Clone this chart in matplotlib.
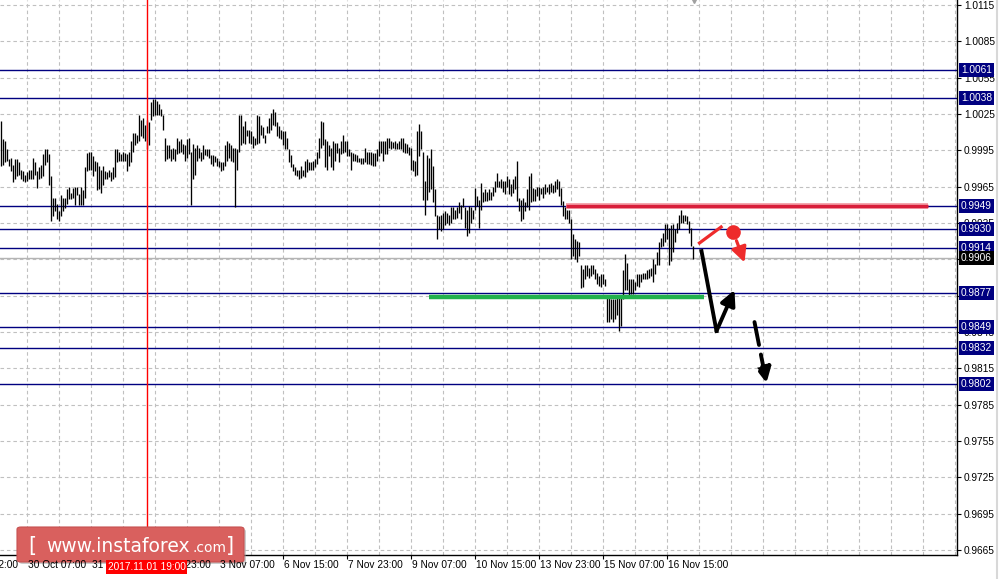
import matplotlib
matplotlib.use("Agg")
import matplotlib.pyplot as plt
from matplotlib.patches import FancyBboxPatch

# ---------------- data ----------------
highs = [
    1.0019, 1.0004, 1.0003, 0.9996, 0.9988, 0.9989, 0.9983, 0.9988, 0.9988, 0.9985,
    0.9979, 0.9978, 0.9975, 0.9977, 0.9979, 0.9979, 0.9989, 0.9985, 0.9978, 0.9981,
    0.9983, 0.9992, 0.9996, 0.9996, 0.9992, 0.9974, 0.9956, 0.9956, 0.9951, 0.9945,
    0.9958, 0.9956, 0.9956, 0.9963, 0.9965, 0.9960, 0.9964, 0.9965, 0.9965, 0.9959,
    0.9965, 0.9962, 0.9981, 0.9993, 0.9994, 0.9994, 0.9990, 0.9986, 0.9985, 0.9982,
    0.9979, 0.9982, 0.9978, 0.9977, 0.9979, 0.9977, 0.9981, 0.9996, 0.9996, 0.9994,
    0.9992, 0.9994, 0.9993, 0.9992, 0.9994, 1.0003, 1.0009, 1.0009, 1.0008, 1.0024,
    1.0020, 1.0022, 1.0016, 1.0020, 1.0018, 1.0035, 1.0037, 1.0037, 1.0036, 1.0033,
    1.0029, 1.0024, 1.0005, 0.9999, 0.9999, 0.9996, 0.9997, 0.9996, 1.0005, 1.0003,
    1.0004, 1.0000, 0.9999, 1.0004, 1.0005, 0.9994, 1.0000, 0.9997, 0.9999, 0.9997,
    0.9994, 0.9999, 0.9996, 0.9996, 0.9996, 0.9991, 0.9991, 0.9990, 0.9989, 0.9986,
    0.9985, 0.9985, 0.9999, 1.0003, 1.0001, 0.9999, 0.9997, 0.9997, 0.9996, 1.0024,
    1.0024, 1.0015, 1.0019, 1.0012, 1.0012, 1.0011, 1.0007, 1.0005, 1.0024, 1.0023,
    1.0016, 1.0014, 1.0008, 1.0015, 1.0022, 1.0026, 1.0029, 1.0027, 1.0018, 1.0015,
    1.0012, 1.0011, 1.0011, 1.0005, 0.9996, 0.9991, 0.9984, 0.9981, 0.9979, 0.9979,
    0.9982, 0.9979, 0.9986, 0.9988, 0.9985, 0.9985, 0.9986, 0.9988, 0.9994, 1.0005,
    1.0019, 1.0018, 1.0004, 1.0003, 0.9999, 0.9997, 1.0003, 1.0001, 1.0001, 0.9997,
    1.0003, 1.0008, 1.0003, 1.0003, 0.9996, 0.9994, 0.9993, 0.9992, 0.9991, 0.9989,
    0.9989, 0.9989, 0.9997, 0.9994, 0.9994, 0.9994, 0.9993, 0.9993, 0.9996, 1.0003,
    1.0003, 1.0003, 1.0003, 1.0005, 1.0005, 1.0003, 1.0002, 1.0003, 1.0001, 1.0003,
    1.0005, 1.0005, 1.0001, 1.0000, 0.9998, 0.9997, 0.9987, 0.9986, 1.0011, 1.0017,
    1.0011, 0.9994, 0.9970, 0.9991, 0.9989, 0.9996, 0.9982, 0.9963, 0.9942, 0.9941,
    0.9942, 0.9943, 0.9945, 0.9943, 0.9942, 0.9948, 0.9948, 0.9946, 0.9948, 0.9952,
    0.9950, 0.9956, 0.9948, 0.9946, 0.9949, 0.9948, 0.9946, 0.9964, 0.9957, 0.9954,
    0.9968, 0.9961, 0.9963, 0.9961, 0.9963, 0.9961, 0.9965, 0.9970, 0.9976, 0.9970,
    0.9971, 0.9970, 0.9970, 0.9974, 0.9971, 0.9967, 0.9971, 0.9974, 0.9986, 0.9956,
    0.9954, 0.9956, 0.9952, 0.9963, 0.9974, 0.9976, 0.9964, 0.9963, 0.9965, 0.9965,
    0.9964, 0.9965, 0.9967, 0.9965, 0.9967, 0.9968, 0.9966, 0.9970, 0.9971, 0.9970,
    0.9964, 0.9953, 0.9948, 0.9946, 0.9946, 0.9938, 0.9926, 0.9922, 0.9920, 0.9919,
    0.9900, 0.9897, 0.9900, 0.9900, 0.9898, 0.9900, 0.9900, 0.9897, 0.9894, 0.9891,
    0.9893, 0.9893, 0.9889, 0.9875, 0.9875, 0.9872, 0.9872, 0.9872, 0.9875, 0.9874,
    0.9874, 0.9896, 0.9909, 0.9902, 0.9889, 0.9889, 0.9889, 0.9886, 0.9893, 0.9893,
    0.9893, 0.9894, 0.9894, 0.9896, 0.9897, 0.9898, 0.9905, 0.9901, 0.9911, 0.9919,
    0.9923, 0.9927, 0.9934, 0.9934, 0.9931, 0.9933, 0.9934, 0.9930, 0.9935, 0.9942,
    0.9946, 0.9942, 0.9942, 0.9941, 0.9937, 0.9931, 0.9916,
]
lows = [
    0.9982, 0.9983, 0.9985, 0.9986, 0.9982, 0.9978, 0.9969, 0.9971, 0.9974, 0.9975,
    0.9971, 0.9970, 0.9969, 0.9970, 0.9971, 0.9971, 0.9971, 0.9975, 0.9964, 0.9971,
    0.9972, 0.9974, 0.9983, 0.9985, 0.9966, 0.9937, 0.9941, 0.9945, 0.9938, 0.9937,
    0.9941, 0.9945, 0.9947, 0.9951, 0.9955, 0.9955, 0.9956, 0.9950, 0.9958, 0.9950,
    0.9950, 0.9950, 0.9956, 0.9978, 0.9979, 0.9979, 0.9974, 0.9978, 0.9962, 0.9963,
    0.9960, 0.9966, 0.9971, 0.9971, 0.9973, 0.9970, 0.9971, 0.9973, 0.9985, 0.9986,
    0.9986, 0.9986, 0.9986, 0.9978, 0.9982, 0.9985, 0.9994, 0.9999, 1.0001, 1.0003,
    1.0007, 1.0005, 1.0003, 0.9996, 0.9999, 1.0020, 1.0023, 1.0024, 1.0024, 1.0024,
    1.0023, 1.0012, 0.9986, 0.9988, 0.9989, 0.9986, 0.9988, 0.9986, 0.9992, 0.9993,
    0.9994, 0.9992, 0.9986, 0.9989, 0.9992, 0.9950, 0.9971, 0.9975, 0.9986, 0.9989,
    0.9986, 0.9988, 0.9991, 0.9990, 0.9989, 0.9984, 0.9982, 0.9985, 0.9982, 0.9981,
    0.9978, 0.9979, 0.9982, 0.9986, 0.9989, 0.9986, 0.9985, 0.9948, 0.9979, 0.9994,
    0.9999, 1.0001, 1.0000, 1.0007, 1.0001, 1.0000, 0.9997, 0.9999, 1.0000, 1.0001,
    1.0008, 1.0005, 1.0001, 1.0009, 1.0009, 1.0012, 1.0016, 1.0015, 1.0007, 1.0005,
    1.0004, 0.9999, 0.9996, 0.9996, 0.9985, 0.9981, 0.9978, 0.9975, 0.9974, 0.9971,
    0.9972, 0.9974, 0.9973, 0.9977, 0.9979, 0.9979, 0.9979, 0.9981, 0.9984, 0.9989,
    0.9997, 0.9999, 0.9981, 0.9979, 0.9990, 0.9981, 0.9979, 0.9986, 0.9993, 0.9985,
    0.9992, 0.9993, 0.9994, 0.9990, 0.9990, 0.9979, 0.9986, 0.9986, 0.9985, 0.9985,
    0.9984, 0.9984, 0.9985, 0.9984, 0.9984, 0.9983, 0.9982, 0.9982, 0.9986, 0.9990,
    0.9993, 0.9986, 0.9992, 0.9992, 0.9997, 0.9996, 0.9997, 0.9996, 0.9996, 0.9996,
    0.9996, 0.9994, 0.9993, 0.9993, 0.9991, 0.9979, 0.9978, 0.9974, 0.9975, 0.9990,
    0.9996, 0.9954, 0.9942, 0.9954, 0.9961, 0.9963, 0.9952, 0.9941, 0.9922, 0.9930,
    0.9928, 0.9930, 0.9933, 0.9935, 0.9933, 0.9935, 0.9938, 0.9938, 0.9939, 0.9943,
    0.9938, 0.9948, 0.9931, 0.9924, 0.9927, 0.9935, 0.9938, 0.9946, 0.9949, 0.9931,
    0.9946, 0.9952, 0.9953, 0.9953, 0.9954, 0.9954, 0.9957, 0.9961, 0.9965, 0.9965,
    0.9964, 0.9961, 0.9959, 0.9965, 0.9959, 0.9957, 0.9960, 0.9963, 0.9953, 0.9945,
    0.9937, 0.9938, 0.9945, 0.9948, 0.9946, 0.9952, 0.9953, 0.9953, 0.9957, 0.9954,
    0.9959, 0.9956, 0.9959, 0.9961, 0.9959, 0.9961, 0.9960, 0.9961, 0.9963, 0.9957,
    0.9950, 0.9941, 0.9938, 0.9938, 0.9935, 0.9905, 0.9908, 0.9905, 0.9903, 0.9908,
    0.9881, 0.9882, 0.9889, 0.9891, 0.9890, 0.9891, 0.9893, 0.9889, 0.9885, 0.9883,
    0.9882, 0.9885, 0.9883, 0.9853, 0.9853, 0.9856, 0.9853, 0.9856, 0.9859, 0.9846,
    0.9850, 0.9872, 0.9880, 0.9880, 0.9875, 0.9876, 0.9876, 0.9880, 0.9883, 0.9882,
    0.9886, 0.9889, 0.9889, 0.9889, 0.9890, 0.9891, 0.9886, 0.9893, 0.9900, 0.9900,
    0.9915, 0.9916, 0.9919, 0.9922, 0.9900, 0.9904, 0.9911, 0.9919, 0.9927, 0.9930,
    0.9935, 0.9935, 0.9937, 0.9934, 0.9927, 0.9916, 0.9905,
]

# horizontal levels (navy) and current price
levels = [1.0061, 1.0038, 0.9949, 0.9930, 0.9914, 0.9877, 0.9849, 0.9832, 0.9802]
current_price = 0.9906

# price scale ticks
ytick_values = [0.9665, 0.9695, 0.9725, 0.9755, 0.9785, 0.9815, 0.9845, 0.9875,
                0.9905, 0.9935, 0.9965, 0.9995, 1.0025, 1.0055, 1.0085, 1.0115]

# time axis labels (bar index -> label)
xtick_bars = [-21, 13, 45, 77, 109, 141, 173, 205, 237, 269, 301, 333]
xtick_labels = ["27 Oct 22:00", "30 Oct 07:00", "31 Oct 15:00", "1 Nov 23:00",
                "3 Nov 07:00", "6 Nov 15:00", "7 Nov 23:00", "9 Nov 07:00",
                "10 Nov 15:00", "13 Nov 23:00", "15 Nov 07:00", "16 Nov 15:00"]

marker_bar = 73
marker_label = "2017.11.01 19:00"

# analyst drawings (bar index, price)
resistance_seg = ([282.5, 463.5], [0.99488, 0.99488])
support_seg = ([214, 351.5], [0.98735, 0.98735])
red_line = ([349.5, 360.3], [0.99185, 0.99317])
red_dot = (366.0, 0.99275)
red_arrow = ((367.5, 0.99226), (372.5, 0.99003))
black_path = ([350.5, 358.0], [0.99118, 0.98458])
black_arrow = ((358.0, 0.98458), (367.0, 0.98797))
dashed_arrow = ((377.0, 0.98532), (383.0, 0.98029))

# ---------------- figure ----------------
W, H = 999, 579
fig = plt.figure(figsize=(W / 100, H / 100), dpi=100)
fig.patch.set_facecolor("white")
ax = fig.add_axes([0, (H - 555) / H, 957 / W, 555 / H])
ax.set_facecolor("white")

FONT = "Liberation Sans"
FS = 7.3

XLIM = (-0.25, 478.25)
YLIM = (0.96609, 1.01191)

# grid
grid_kw = dict(color="#C0C0C0", lw=0.8, linestyle=(0, (3.2, 2.6)), zorder=0)
for v in ytick_values:
    ax.axhline(v, **grid_kw)
for b in range(13, 479, 16):
    ax.axvline(b, **grid_kw)

# levels
for lv in levels:
    ax.axhline(lv, color="#000080", lw=1.0, zorder=2)
ax.axhline(current_price, color="#B4B4B4", lw=1.0, zorder=1.5)

# bars
idx = list(range(len(highs)))
ax.vlines(idx, lows, highs, color="black", lw=0.95, zorder=3)

# red time marker
ax.axvline(marker_bar, color="#FF0000", lw=1.0, zorder=4)

# drawings
ax.plot(*resistance_seg, color="#F4A0A8", lw=4.2, solid_capstyle="butt", zorder=5)
ax.plot(*resistance_seg, color="#D81E3A", lw=2.4, solid_capstyle="butt", zorder=5)
ax.plot(*support_seg, color="#22B14C", lw=3.2, solid_capstyle="butt", zorder=5)
ax.plot(*red_line, color="#EE2B2B", lw=2.3, zorder=6)
ax.plot(*red_dot, "o", color="#EE2B2B", ms=9.5, zorder=6)
ax.annotate("", xy=red_arrow[1], xytext=red_arrow[0],
            arrowprops=dict(arrowstyle="-|>,head_length=0.9,head_width=0.45",
                            color="#EE2B2B", lw=2.3), zorder=6)
ax.plot(*black_path, color="black", lw=2.8, zorder=6)
ax.annotate("", xy=black_arrow[1], xytext=black_arrow[0],
            arrowprops=dict(arrowstyle="-|>,head_length=0.9,head_width=0.45",
                            color="black", lw=2.8, shrinkA=0, shrinkB=0), zorder=6)
ax.annotate("", xy=dashed_arrow[1], xytext=dashed_arrow[0],
            arrowprops=dict(arrowstyle="-|>,head_length=0.9,head_width=0.45",
                            color="black", lw=2.8, linestyle=(0, (6, 2.5)),
                            shrinkA=0, shrinkB=0), zorder=6)

# spines
for s in ["top", "left"]:
    ax.spines[s].set_visible(False)
for s in ["right", "bottom"]:
    ax.spines[s].set_color("black")
    ax.spines[s].set_linewidth(1.0)

# y ticks on the right
ax.yaxis.tick_right()
ax.set_yticks(ytick_values)
ax.set_yticklabels([f"{v:.4f}" for v in ytick_values], fontsize=FS, family=FONT)
ax.tick_params(axis="y", direction="out", length=3, width=0.8, pad=2, colors="black")

# x ticks (only those inside the chart)
ax.set_xticks([b for b in xtick_bars if b >= 0])
ax.set_xticklabels([])
ax.tick_params(axis="x", direction="out", length=3, width=0.8)

ax.set_xlim(*XLIM)
ax.set_ylim(*YLIM)

# logo (drawn above the axis line, below the time labels)
def fx(px):
    return px / W

def fy(py):
    return (H - py) / H

shadow = FancyBboxPatch((fx(19), fy(564)), fx(227), 35 / H,
                        boxstyle="round,pad=0,rounding_size=0.004",
                        transform=fig.transFigure, fc="#9A9A9A", ec="none",
                        alpha=0.5, zorder=8, clip_on=False)
ax.add_patch(shadow)
logo = FancyBboxPatch((fx(17), fy(562)), fx(227), 35 / H,
                      boxstyle="round,pad=0,rounding_size=0.004",
                      transform=fig.transFigure, fc="#D9605E", ec="#C65050",
                      lw=0.8, zorder=8.5, clip_on=False)
ax.add_patch(logo)
logo_kw = dict(color="white", family="DejaVu Sans", ha="left", va="baseline",
               zorder=9, transform=fig.transFigure, clip_on=False)
ax.text(fx(28), fy(552), "[", fontsize=15, **logo_kw)
ax.text(fx(46), fy(552), "www.instaforex", fontsize=13.5, **logo_kw)
ax.text(fx(193), fy(552), ".com", fontsize=10, **logo_kw)
ax.text(fx(226), fy(552), "]", fontsize=15, **logo_kw)

for b, lab in zip(xtick_bars, xtick_labels):
    ax.annotate(lab, xy=(b, 0), xycoords=("data", "axes fraction"),
                xytext=(2, -5), textcoords="offset pixels", ha="left", va="top",
                fontsize=FS, family=FONT, color="black", annotation_clip=False,
                zorder=10)

# level labels boxes on price scale
for lv in levels:
    ax.annotate(f"{lv:.4f}", xy=(1, lv), xycoords=("axes fraction", "data"),
                xytext=(4, 0), textcoords="offset pixels", ha="left", va="center",
                fontsize=FS, family=FONT, color="white", zorder=10,
                annotation_clip=False,
                bbox=dict(boxstyle="square,pad=0.2", fc="#000080", ec="none"))
ax.annotate(f"{current_price:.4f}", xy=(1, current_price),
            xycoords=("axes fraction", "data"),
            xytext=(4, 0), textcoords="offset pixels", ha="left", va="center",
            fontsize=FS, family=FONT, color="white", zorder=10,
            annotation_clip=False,
            bbox=dict(boxstyle="square,pad=0.2", fc="black", ec="none"))

# time marker label
ax.annotate(marker_label, xy=(marker_bar, 0), xycoords=("data", "axes fraction"),
            xytext=(0, -12), textcoords="offset pixels", ha="center", va="center",
            fontsize=FS, family=FONT, color="white", zorder=11,
            annotation_clip=False,
            bbox=dict(boxstyle="square,pad=0.15", fc="#FF0000", ec="none"))

# chart shift marker
ax.plot([len(highs) - 0.5], [YLIM[1]], marker="v", color="#A0A0A0", ms=5,
        clip_on=False, zorder=10)

# window border at right
fig.add_artist(plt.Line2D([997 / W, 997 / W], [0, 1], color="#D8D8D8", lw=1.5))

fig.savefig("out.png", dpi=100, facecolor="white")
